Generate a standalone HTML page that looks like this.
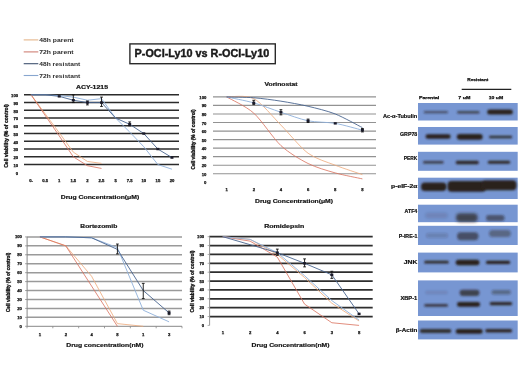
<!DOCTYPE html>
<html><head><meta charset="utf-8"><style>
html,body{margin:0;padding:0;background:#fff;}
svg{display:block;font-family:"Liberation Sans", sans-serif;filter:blur(0.4px);}
</style></head><body>
<svg width="520" height="390" viewBox="0 0 520 390">
<rect width="520" height="390" fill="#fff"/>
<line x1="24" y1="164.55" x2="179" y2="164.55" stroke="#2b2b2b" stroke-width="1.6"/>
<line x1="24" y1="156.80" x2="179" y2="156.80" stroke="#2b2b2b" stroke-width="1.6"/>
<line x1="24" y1="149.05" x2="179" y2="149.05" stroke="#2b2b2b" stroke-width="1.6"/>
<line x1="24" y1="141.30" x2="179" y2="141.30" stroke="#2b2b2b" stroke-width="1.6"/>
<line x1="24" y1="133.55" x2="179" y2="133.55" stroke="#2b2b2b" stroke-width="1.6"/>
<line x1="24" y1="125.80" x2="179" y2="125.80" stroke="#2b2b2b" stroke-width="1.6"/>
<line x1="24" y1="118.05" x2="179" y2="118.05" stroke="#2b2b2b" stroke-width="1.6"/>
<line x1="24" y1="110.30" x2="179" y2="110.30" stroke="#2b2b2b" stroke-width="1.6"/>
<line x1="24" y1="102.55" x2="179" y2="102.55" stroke="#2b2b2b" stroke-width="1.6"/>
<line x1="24" y1="94.80" x2="179" y2="94.80" stroke="#2b2b2b" stroke-width="1.6"/>
<text x="18.1" y="174.6" font-size="4.2" text-anchor="end" font-weight="bold" fill="#111" stroke="#111" stroke-width="0.25">0</text>
<text x="18.1" y="166.9" font-size="4.2" text-anchor="end" font-weight="bold" fill="#111" stroke="#111" stroke-width="0.25">10</text>
<text x="18.1" y="159.1" font-size="4.2" text-anchor="end" font-weight="bold" fill="#111" stroke="#111" stroke-width="0.25">20</text>
<text x="18.1" y="151.4" font-size="4.2" text-anchor="end" font-weight="bold" fill="#111" stroke="#111" stroke-width="0.25">30</text>
<text x="18.1" y="143.6" font-size="4.2" text-anchor="end" font-weight="bold" fill="#111" stroke="#111" stroke-width="0.25">40</text>
<text x="18.1" y="135.9" font-size="4.2" text-anchor="end" font-weight="bold" fill="#111" stroke="#111" stroke-width="0.25">50</text>
<text x="18.1" y="128.1" font-size="4.2" text-anchor="end" font-weight="bold" fill="#111" stroke="#111" stroke-width="0.25">60</text>
<text x="18.1" y="120.4" font-size="4.2" text-anchor="end" font-weight="bold" fill="#111" stroke="#111" stroke-width="0.25">70</text>
<text x="18.1" y="112.6" font-size="4.2" text-anchor="end" font-weight="bold" fill="#111" stroke="#111" stroke-width="0.25">80</text>
<text x="18.1" y="104.8" font-size="4.2" text-anchor="end" font-weight="bold" fill="#111" stroke="#111" stroke-width="0.25">90</text>
<text x="18.1" y="97.1" font-size="4.2" text-anchor="end" font-weight="bold" fill="#111" stroke="#111" stroke-width="0.25">100</text>
<text x="31.0" y="182.1" font-size="4.2" text-anchor="middle" font-weight="bold" fill="#111" stroke="#111" stroke-width="0.25">0-</text>
<text x="45.1" y="182.1" font-size="4.2" text-anchor="middle" font-weight="bold" fill="#111" stroke="#111" stroke-width="0.25">0.5</text>
<text x="59.2" y="182.1" font-size="4.2" text-anchor="middle" font-weight="bold" fill="#111" stroke="#111" stroke-width="0.25">1</text>
<text x="73.3" y="182.1" font-size="4.2" text-anchor="middle" font-weight="bold" fill="#111" stroke="#111" stroke-width="0.25">1.5</text>
<text x="87.4" y="182.1" font-size="4.2" text-anchor="middle" font-weight="bold" fill="#111" stroke="#111" stroke-width="0.25">2</text>
<text x="101.5" y="182.1" font-size="4.2" text-anchor="middle" font-weight="bold" fill="#111" stroke="#111" stroke-width="0.25">2.5</text>
<text x="115.6" y="182.1" font-size="4.2" text-anchor="middle" font-weight="bold" fill="#111" stroke="#111" stroke-width="0.25">5</text>
<text x="129.7" y="182.1" font-size="4.2" text-anchor="middle" font-weight="bold" fill="#111" stroke="#111" stroke-width="0.25">7.5</text>
<text x="143.8" y="182.1" font-size="4.2" text-anchor="middle" font-weight="bold" fill="#111" stroke="#111" stroke-width="0.25">10</text>
<text x="157.9" y="182.1" font-size="4.2" text-anchor="middle" font-weight="bold" fill="#111" stroke="#111" stroke-width="0.25">15</text>
<text x="172.0" y="182.1" font-size="4.2" text-anchor="middle" font-weight="bold" fill="#111" stroke="#111" stroke-width="0.25">20</text>
<polyline points="31.05,94.80 45.14,113.79 59.23,132.78 73.32,152.15 87.41,161.45 101.50,163.39" fill="none" stroke="#eea878" stroke-width="0.8" stroke-linejoin="round"/>
<polyline points="31.05,94.80 45.14,115.34 59.23,135.88 73.32,156.80 87.41,165.71 101.50,168.43" fill="none" stroke="#d9705c" stroke-width="0.8" stroke-linejoin="round"/>
<polyline points="31.05,94.80 45.14,94.80 59.23,95.57 73.32,97.12 87.41,100.23 101.50,98.67 115.59,118.05 129.68,132.00 143.77,146.73 157.86,164.55 171.95,169.20" fill="none" stroke="#8fb0da" stroke-width="0.9" stroke-linejoin="round"/>
<polyline points="31.05,94.80 45.14,94.80 59.23,96.35 73.32,100.23 87.41,102.55 101.50,102.55 115.59,118.05 129.68,124.25 143.77,133.55 157.86,149.05 171.95,157.58" fill="none" stroke="#4a6590" stroke-width="0.9" stroke-linejoin="round"/>
<rect x="57.73" y="95.15" width="3.0" height="2.4" fill="#1a1a2a"/>
<line x1="73.32" y1="94.80" x2="73.32" y2="102.55" stroke="#111" stroke-width="0.9"/>
<line x1="71.92" y1="94.80" x2="74.72" y2="94.80" stroke="#111" stroke-width="0.9"/>
<line x1="71.92" y1="102.55" x2="74.72" y2="102.55" stroke="#111" stroke-width="0.9"/>
<rect x="71.82" y="99.03" width="3.0" height="2.4" fill="#1a1a2a"/>
<line x1="87.41" y1="101.00" x2="87.41" y2="104.88" stroke="#111" stroke-width="0.9"/>
<line x1="86.01" y1="101.00" x2="88.81" y2="101.00" stroke="#111" stroke-width="0.9"/>
<line x1="86.01" y1="104.88" x2="88.81" y2="104.88" stroke="#111" stroke-width="0.9"/>
<rect x="85.91" y="101.35" width="3.0" height="2.4" fill="#1a1a2a"/>
<line x1="101.50" y1="97.12" x2="101.50" y2="106.42" stroke="#111" stroke-width="0.9"/>
<line x1="100.10" y1="97.12" x2="102.90" y2="97.12" stroke="#111" stroke-width="0.9"/>
<line x1="100.10" y1="106.42" x2="102.90" y2="106.42" stroke="#111" stroke-width="0.9"/>
<rect x="100.00" y="101.35" width="3.0" height="2.4" fill="#1a1a2a"/>
<line x1="129.68" y1="121.93" x2="129.68" y2="125.80" stroke="#111" stroke-width="0.9"/>
<line x1="128.28" y1="121.93" x2="131.08" y2="121.93" stroke="#111" stroke-width="0.9"/>
<line x1="128.28" y1="125.80" x2="131.08" y2="125.80" stroke="#111" stroke-width="0.9"/>
<rect x="128.18" y="123.05" width="3.0" height="2.4" fill="#1a1a2a"/>
<rect x="142.27" y="132.35" width="3.0" height="2.4" fill="#1a1a2a"/>
<rect x="156.36" y="147.85" width="3.0" height="2.4" fill="#1a1a2a"/>
<rect x="170.45" y="156.38" width="3.0" height="2.4" fill="#1a1a2a"/>
<text x="92.0" y="88.5" font-size="5.2" text-anchor="middle" font-weight="bold" fill="#111" textLength="32" lengthAdjust="spacingAndGlyphs" stroke="#111" stroke-width="0.18">ACY-1215</text>
<text x="100.0" y="199.2" font-size="5.6" text-anchor="middle" font-weight="bold" fill="#111" textLength="78.5" lengthAdjust="spacingAndGlyphs" stroke="#111" stroke-width="0.18">Drug Concentration(μM)</text>
<text transform="translate(7.8,136) rotate(-90)" x="0" y="0" font-size="4.6" text-anchor="middle" font-weight="bold" fill="#111" stroke="#111" stroke-width="0.3" textLength="63.6" lengthAdjust="spacingAndGlyphs">Cell viability (% of control)</text>
<line x1="213" y1="173.76" x2="376" y2="173.76" stroke="#929292" stroke-width="1.15"/>
<line x1="213" y1="165.22" x2="376" y2="165.22" stroke="#929292" stroke-width="1.15"/>
<line x1="213" y1="156.68" x2="376" y2="156.68" stroke="#929292" stroke-width="1.15"/>
<line x1="213" y1="148.14" x2="376" y2="148.14" stroke="#929292" stroke-width="1.15"/>
<line x1="213" y1="139.60" x2="376" y2="139.60" stroke="#929292" stroke-width="1.15"/>
<line x1="213" y1="131.06" x2="376" y2="131.06" stroke="#929292" stroke-width="1.15"/>
<line x1="213" y1="122.52" x2="376" y2="122.52" stroke="#929292" stroke-width="1.15"/>
<line x1="213" y1="113.98" x2="376" y2="113.98" stroke="#929292" stroke-width="1.15"/>
<line x1="213" y1="105.44" x2="376" y2="105.44" stroke="#929292" stroke-width="1.15"/>
<line x1="213" y1="96.90" x2="376" y2="96.90" stroke="#929292" stroke-width="1.15"/>
<text x="206.3" y="184.3" font-size="4.2" text-anchor="end" font-weight="bold" fill="#111" stroke="#111" stroke-width="0.25">0</text>
<text x="206.3" y="175.8" font-size="4.2" text-anchor="end" font-weight="bold" fill="#111" stroke="#111" stroke-width="0.25">10</text>
<text x="206.3" y="167.2" font-size="4.2" text-anchor="end" font-weight="bold" fill="#111" stroke="#111" stroke-width="0.25">20</text>
<text x="206.3" y="158.7" font-size="4.2" text-anchor="end" font-weight="bold" fill="#111" stroke="#111" stroke-width="0.25">30</text>
<text x="206.3" y="150.1" font-size="4.2" text-anchor="end" font-weight="bold" fill="#111" stroke="#111" stroke-width="0.25">40</text>
<text x="206.3" y="141.6" font-size="4.2" text-anchor="end" font-weight="bold" fill="#111" stroke="#111" stroke-width="0.25">50</text>
<text x="206.3" y="133.1" font-size="4.2" text-anchor="end" font-weight="bold" fill="#111" stroke="#111" stroke-width="0.25">60</text>
<text x="206.3" y="124.5" font-size="4.2" text-anchor="end" font-weight="bold" fill="#111" stroke="#111" stroke-width="0.25">70</text>
<text x="206.3" y="116.0" font-size="4.2" text-anchor="end" font-weight="bold" fill="#111" stroke="#111" stroke-width="0.25">80</text>
<text x="206.3" y="107.4" font-size="4.2" text-anchor="end" font-weight="bold" fill="#111" stroke="#111" stroke-width="0.25">90</text>
<text x="206.3" y="98.9" font-size="4.2" text-anchor="end" font-weight="bold" fill="#111" stroke="#111" stroke-width="0.25">100</text>
<text x="226.6" y="190.5" font-size="4.2" text-anchor="middle" font-weight="bold" fill="#111" stroke="#111" stroke-width="0.25">1</text>
<text x="253.8" y="190.5" font-size="4.2" text-anchor="middle" font-weight="bold" fill="#111" stroke="#111" stroke-width="0.25">2</text>
<text x="280.9" y="190.5" font-size="4.2" text-anchor="middle" font-weight="bold" fill="#111" stroke="#111" stroke-width="0.25">4</text>
<text x="308.1" y="190.5" font-size="4.2" text-anchor="middle" font-weight="bold" fill="#111" stroke="#111" stroke-width="0.25">6</text>
<text x="335.2" y="190.5" font-size="4.2" text-anchor="middle" font-weight="bold" fill="#111" stroke="#111" stroke-width="0.25">8</text>
<text x="362.4" y="190.5" font-size="4.2" text-anchor="middle" font-weight="bold" fill="#111" stroke="#111" stroke-width="0.25">8</text>
<path d="M226.58,96.90 C230.46,97.14 245.99,94.58 253.75,98.61 C261.51,102.63 273.15,117.27 280.92,125.08 C288.68,132.89 300.32,147.53 308.08,153.26 C315.85,159.00 327.49,162.17 335.25,165.22 C343.01,168.27 358.54,173.27 362.42,174.61" fill="none" stroke="#eea878" stroke-width="0.8"/>
<path d="M226.58,96.90 C230.46,99.22 245.99,106.17 253.75,113.13 C261.51,120.08 273.15,138.38 280.92,145.58 C288.68,152.78 300.32,159.61 308.08,163.51 C315.85,167.42 327.49,170.71 335.25,172.91 C343.01,175.10 358.54,178.03 362.42,178.88" fill="none" stroke="#d9705c" stroke-width="0.8"/>
<path d="M226.58,96.90 C230.46,97.75 245.99,100.68 253.75,102.88 C261.51,105.07 273.15,109.71 280.92,112.27 C288.68,114.83 300.32,119.23 308.08,120.81 C315.85,122.40 327.49,122.03 335.25,123.37 C343.01,124.72 358.54,129.23 362.42,130.21" fill="none" stroke="#8fb0da" stroke-width="0.9"/>
<path d="M226.58,96.90 C230.46,97.02 245.99,97.14 253.75,97.75 C261.51,98.36 273.15,99.95 280.92,101.17 C288.68,102.39 300.32,104.46 308.08,106.29 C315.85,108.12 327.49,110.93 335.25,113.98 C343.01,117.03 358.54,125.69 362.42,127.64" fill="none" stroke="#4a6590" stroke-width="0.9"/>
<line x1="253.75" y1="100.32" x2="253.75" y2="104.59" stroke="#111" stroke-width="0.9"/>
<line x1="252.35" y1="100.32" x2="255.15" y2="100.32" stroke="#111" stroke-width="0.9"/>
<line x1="252.35" y1="104.59" x2="255.15" y2="104.59" stroke="#111" stroke-width="0.9"/>
<rect x="252.25" y="101.68" width="3.0" height="2.4" fill="#1a1a2a"/>
<line x1="280.92" y1="109.71" x2="280.92" y2="114.83" stroke="#111" stroke-width="0.9"/>
<line x1="279.52" y1="109.71" x2="282.32" y2="109.71" stroke="#111" stroke-width="0.9"/>
<line x1="279.52" y1="114.83" x2="282.32" y2="114.83" stroke="#111" stroke-width="0.9"/>
<rect x="279.42" y="111.07" width="3.0" height="2.4" fill="#1a1a2a"/>
<line x1="308.08" y1="119.10" x2="308.08" y2="122.52" stroke="#111" stroke-width="0.9"/>
<line x1="306.68" y1="119.10" x2="309.48" y2="119.10" stroke="#111" stroke-width="0.9"/>
<line x1="306.68" y1="122.52" x2="309.48" y2="122.52" stroke="#111" stroke-width="0.9"/>
<rect x="306.58" y="119.61" width="3.0" height="2.4" fill="#1a1a2a"/>
<rect x="333.75" y="122.17" width="3.0" height="2.4" fill="#1a1a2a"/>
<line x1="362.42" y1="128.50" x2="362.42" y2="131.91" stroke="#111" stroke-width="0.9"/>
<line x1="361.02" y1="128.50" x2="363.82" y2="128.50" stroke="#111" stroke-width="0.9"/>
<line x1="361.02" y1="131.91" x2="363.82" y2="131.91" stroke="#111" stroke-width="0.9"/>
<rect x="360.92" y="129.01" width="3.0" height="2.4" fill="#1a1a2a"/>
<text x="281.0" y="86.3" font-size="5.2" text-anchor="middle" font-weight="bold" fill="#111" textLength="33" lengthAdjust="spacingAndGlyphs" stroke="#111" stroke-width="0.18">Vorinostat</text>
<text x="294.0" y="202.7" font-size="5.6" text-anchor="middle" font-weight="bold" fill="#111" textLength="78" lengthAdjust="spacingAndGlyphs" stroke="#111" stroke-width="0.18">Drug Concentration(μM)</text>
<text transform="translate(195.1,139.5) rotate(-90)" x="0" y="0" font-size="4.6" text-anchor="middle" font-weight="bold" fill="#111" stroke="#111" stroke-width="0.3" textLength="60" lengthAdjust="spacingAndGlyphs">Cell viability (% of control)</text>
<line x1="27" y1="317.36" x2="182" y2="317.36" stroke="#9a9a9a" stroke-width="1.5"/>
<line x1="27" y1="308.42" x2="182" y2="308.42" stroke="#9a9a9a" stroke-width="1.5"/>
<line x1="27" y1="299.48" x2="182" y2="299.48" stroke="#9a9a9a" stroke-width="1.5"/>
<line x1="27" y1="290.54" x2="182" y2="290.54" stroke="#9a9a9a" stroke-width="1.5"/>
<line x1="27" y1="281.60" x2="182" y2="281.60" stroke="#9a9a9a" stroke-width="1.5"/>
<line x1="27" y1="272.66" x2="182" y2="272.66" stroke="#9a9a9a" stroke-width="1.5"/>
<line x1="27" y1="263.72" x2="182" y2="263.72" stroke="#9a9a9a" stroke-width="1.5"/>
<line x1="27" y1="254.78" x2="182" y2="254.78" stroke="#9a9a9a" stroke-width="1.5"/>
<line x1="27" y1="245.84" x2="182" y2="245.84" stroke="#9a9a9a" stroke-width="1.5"/>
<line x1="27" y1="236.90" x2="182" y2="236.90" stroke="#9a9a9a" stroke-width="1.5"/>
<line x1="27" y1="326.30" x2="182" y2="326.30" stroke="#888" stroke-width="1"/>
<line x1="27.00" y1="326.30" x2="27.00" y2="328.30" stroke="#888" stroke-width="0.8"/>
<line x1="52.83" y1="326.30" x2="52.83" y2="328.30" stroke="#888" stroke-width="0.8"/>
<line x1="78.67" y1="326.30" x2="78.67" y2="328.30" stroke="#888" stroke-width="0.8"/>
<line x1="104.50" y1="326.30" x2="104.50" y2="328.30" stroke="#888" stroke-width="0.8"/>
<line x1="130.33" y1="326.30" x2="130.33" y2="328.30" stroke="#888" stroke-width="0.8"/>
<line x1="156.17" y1="326.30" x2="156.17" y2="328.30" stroke="#888" stroke-width="0.8"/>
<line x1="182.00" y1="326.30" x2="182.00" y2="328.30" stroke="#888" stroke-width="0.8"/>
<line x1="27.1" y1="236.90" x2="27.1" y2="326.30" stroke="#888" stroke-width="1"/>
<line x1="25.1" y1="326.30" x2="27.1" y2="326.30" stroke="#888" stroke-width="0.8"/>
<line x1="25.1" y1="317.36" x2="27.1" y2="317.36" stroke="#888" stroke-width="0.8"/>
<line x1="25.1" y1="308.42" x2="27.1" y2="308.42" stroke="#888" stroke-width="0.8"/>
<line x1="25.1" y1="299.48" x2="27.1" y2="299.48" stroke="#888" stroke-width="0.8"/>
<line x1="25.1" y1="290.54" x2="27.1" y2="290.54" stroke="#888" stroke-width="0.8"/>
<line x1="25.1" y1="281.60" x2="27.1" y2="281.60" stroke="#888" stroke-width="0.8"/>
<line x1="25.1" y1="272.66" x2="27.1" y2="272.66" stroke="#888" stroke-width="0.8"/>
<line x1="25.1" y1="263.72" x2="27.1" y2="263.72" stroke="#888" stroke-width="0.8"/>
<line x1="25.1" y1="254.78" x2="27.1" y2="254.78" stroke="#888" stroke-width="0.8"/>
<line x1="25.1" y1="245.84" x2="27.1" y2="245.84" stroke="#888" stroke-width="0.8"/>
<line x1="25.1" y1="236.90" x2="27.1" y2="236.90" stroke="#888" stroke-width="0.8"/>
<text x="21.9" y="327.8" font-size="4.2" text-anchor="end" font-weight="bold" fill="#111" stroke="#111" stroke-width="0.25">0</text>
<text x="21.9" y="318.9" font-size="4.2" text-anchor="end" font-weight="bold" fill="#111" stroke="#111" stroke-width="0.25">10</text>
<text x="21.9" y="309.9" font-size="4.2" text-anchor="end" font-weight="bold" fill="#111" stroke="#111" stroke-width="0.25">20</text>
<text x="21.9" y="301.0" font-size="4.2" text-anchor="end" font-weight="bold" fill="#111" stroke="#111" stroke-width="0.25">30</text>
<text x="21.9" y="292.0" font-size="4.2" text-anchor="end" font-weight="bold" fill="#111" stroke="#111" stroke-width="0.25">40</text>
<text x="21.9" y="283.1" font-size="4.2" text-anchor="end" font-weight="bold" fill="#111" stroke="#111" stroke-width="0.25">50</text>
<text x="21.9" y="274.2" font-size="4.2" text-anchor="end" font-weight="bold" fill="#111" stroke="#111" stroke-width="0.25">60</text>
<text x="21.9" y="265.2" font-size="4.2" text-anchor="end" font-weight="bold" fill="#111" stroke="#111" stroke-width="0.25">70</text>
<text x="21.9" y="256.3" font-size="4.2" text-anchor="end" font-weight="bold" fill="#111" stroke="#111" stroke-width="0.25">80</text>
<text x="21.9" y="247.3" font-size="4.2" text-anchor="end" font-weight="bold" fill="#111" stroke="#111" stroke-width="0.25">90</text>
<text x="21.9" y="238.4" font-size="4.2" text-anchor="end" font-weight="bold" fill="#111" stroke="#111" stroke-width="0.25">100</text>
<text x="39.9" y="335.6" font-size="4.2" text-anchor="middle" font-weight="bold" fill="#111" stroke="#111" stroke-width="0.25">1</text>
<text x="65.8" y="335.6" font-size="4.2" text-anchor="middle" font-weight="bold" fill="#111" stroke="#111" stroke-width="0.25">2</text>
<text x="91.6" y="335.6" font-size="4.2" text-anchor="middle" font-weight="bold" fill="#111" stroke="#111" stroke-width="0.25">4</text>
<text x="117.4" y="335.6" font-size="4.2" text-anchor="middle" font-weight="bold" fill="#111" stroke="#111" stroke-width="0.25">8</text>
<text x="143.2" y="335.6" font-size="4.2" text-anchor="middle" font-weight="bold" fill="#111" stroke="#111" stroke-width="0.25">1</text>
<text x="169.1" y="335.6" font-size="4.2" text-anchor="middle" font-weight="bold" fill="#111" stroke="#111" stroke-width="0.25">3</text>
<polyline points="39.92,236.90 65.75,245.84 91.58,276.24 117.42,323.62 143.25,326.30" fill="none" stroke="#eea878" stroke-width="0.8" stroke-linejoin="round"/>
<polyline points="39.92,236.90 65.75,245.84 91.58,286.07 117.42,326.30" fill="none" stroke="#d9705c" stroke-width="0.8" stroke-linejoin="round"/>
<polyline points="39.92,236.90 65.75,236.90 91.58,237.79 117.42,247.63 143.25,310.21 169.08,321.83" fill="none" stroke="#8fb0da" stroke-width="0.9" stroke-linejoin="round"/>
<polyline points="39.92,236.90 65.75,236.90 91.58,237.79 117.42,249.42 143.25,290.54 169.08,312.89" fill="none" stroke="#4a6590" stroke-width="0.9" stroke-linejoin="round"/>
<line x1="117.42" y1="244.05" x2="117.42" y2="253.89" stroke="#111" stroke-width="0.9"/>
<line x1="116.02" y1="244.05" x2="118.82" y2="244.05" stroke="#111" stroke-width="0.9"/>
<line x1="116.02" y1="253.89" x2="118.82" y2="253.89" stroke="#111" stroke-width="0.9"/>
<line x1="143.25" y1="283.39" x2="143.25" y2="298.59" stroke="#111" stroke-width="0.9"/>
<line x1="141.85" y1="283.39" x2="144.65" y2="283.39" stroke="#111" stroke-width="0.9"/>
<line x1="141.85" y1="298.59" x2="144.65" y2="298.59" stroke="#111" stroke-width="0.9"/>
<line x1="169.08" y1="311.10" x2="169.08" y2="314.68" stroke="#111" stroke-width="0.9"/>
<line x1="167.68" y1="311.10" x2="170.48" y2="311.10" stroke="#111" stroke-width="0.9"/>
<line x1="167.68" y1="314.68" x2="170.48" y2="314.68" stroke="#111" stroke-width="0.9"/>
<rect x="167.58" y="311.69" width="3.0" height="2.4" fill="#1a1a2a"/>
<text x="98.8" y="228.0" font-size="5.2" text-anchor="middle" font-weight="bold" fill="#111" textLength="37" lengthAdjust="spacingAndGlyphs" stroke="#111" stroke-width="0.18">Bortezomib</text>
<text x="104.9" y="346.5" font-size="5.6" text-anchor="middle" font-weight="bold" fill="#111" textLength="77.3" lengthAdjust="spacingAndGlyphs" stroke="#111" stroke-width="0.18">Drug concentration(nM)</text>
<text transform="translate(10.3,282.4) rotate(-90)" x="0" y="0" font-size="4.6" text-anchor="middle" font-weight="bold" fill="#111" stroke="#111" stroke-width="0.3" textLength="59.4" lengthAdjust="spacingAndGlyphs">Cell viability (% of control)</text>
<line x1="209.2" y1="316.53" x2="372.7" y2="316.53" stroke="#2e2e2e" stroke-width="1.7"/>
<line x1="209.2" y1="307.66" x2="372.7" y2="307.66" stroke="#2e2e2e" stroke-width="1.7"/>
<line x1="209.2" y1="298.79" x2="372.7" y2="298.79" stroke="#2e2e2e" stroke-width="1.7"/>
<line x1="209.2" y1="289.92" x2="372.7" y2="289.92" stroke="#2e2e2e" stroke-width="1.7"/>
<line x1="209.2" y1="281.05" x2="372.7" y2="281.05" stroke="#2e2e2e" stroke-width="1.7"/>
<line x1="209.2" y1="272.18" x2="372.7" y2="272.18" stroke="#2e2e2e" stroke-width="1.7"/>
<line x1="209.2" y1="263.31" x2="372.7" y2="263.31" stroke="#2e2e2e" stroke-width="1.7"/>
<line x1="209.2" y1="254.44" x2="372.7" y2="254.44" stroke="#2e2e2e" stroke-width="1.7"/>
<line x1="209.2" y1="245.57" x2="372.7" y2="245.57" stroke="#2e2e2e" stroke-width="1.7"/>
<line x1="209.2" y1="236.70" x2="372.7" y2="236.70" stroke="#2e2e2e" stroke-width="1.7"/>
<line x1="209.6" y1="236.70" x2="209.6" y2="325.40" stroke="#999" stroke-width="1"/>
<line x1="207.6" y1="325.40" x2="209.6" y2="325.40" stroke="#999" stroke-width="0.8"/>
<line x1="207.6" y1="316.53" x2="209.6" y2="316.53" stroke="#999" stroke-width="0.8"/>
<line x1="207.6" y1="307.66" x2="209.6" y2="307.66" stroke="#999" stroke-width="0.8"/>
<line x1="207.6" y1="298.79" x2="209.6" y2="298.79" stroke="#999" stroke-width="0.8"/>
<line x1="207.6" y1="289.92" x2="209.6" y2="289.92" stroke="#999" stroke-width="0.8"/>
<line x1="207.6" y1="281.05" x2="209.6" y2="281.05" stroke="#999" stroke-width="0.8"/>
<line x1="207.6" y1="272.18" x2="209.6" y2="272.18" stroke="#999" stroke-width="0.8"/>
<line x1="207.6" y1="263.31" x2="209.6" y2="263.31" stroke="#999" stroke-width="0.8"/>
<line x1="207.6" y1="254.44" x2="209.6" y2="254.44" stroke="#999" stroke-width="0.8"/>
<line x1="207.6" y1="245.57" x2="209.6" y2="245.57" stroke="#999" stroke-width="0.8"/>
<line x1="207.6" y1="236.70" x2="209.6" y2="236.70" stroke="#999" stroke-width="0.8"/>
<text x="204.1" y="326.9" font-size="4.2" text-anchor="end" font-weight="bold" fill="#111" stroke="#111" stroke-width="0.25">0</text>
<text x="204.1" y="318.0" font-size="4.2" text-anchor="end" font-weight="bold" fill="#111" stroke="#111" stroke-width="0.25">10</text>
<text x="204.1" y="309.2" font-size="4.2" text-anchor="end" font-weight="bold" fill="#111" stroke="#111" stroke-width="0.25">20</text>
<text x="204.1" y="300.3" font-size="4.2" text-anchor="end" font-weight="bold" fill="#111" stroke="#111" stroke-width="0.25">30</text>
<text x="204.1" y="291.4" font-size="4.2" text-anchor="end" font-weight="bold" fill="#111" stroke="#111" stroke-width="0.25">40</text>
<text x="204.1" y="282.5" font-size="4.2" text-anchor="end" font-weight="bold" fill="#111" stroke="#111" stroke-width="0.25">50</text>
<text x="204.1" y="273.7" font-size="4.2" text-anchor="end" font-weight="bold" fill="#111" stroke="#111" stroke-width="0.25">60</text>
<text x="204.1" y="264.8" font-size="4.2" text-anchor="end" font-weight="bold" fill="#111" stroke="#111" stroke-width="0.25">70</text>
<text x="204.1" y="255.9" font-size="4.2" text-anchor="end" font-weight="bold" fill="#111" stroke="#111" stroke-width="0.25">80</text>
<text x="204.1" y="247.1" font-size="4.2" text-anchor="end" font-weight="bold" fill="#111" stroke="#111" stroke-width="0.25">90</text>
<text x="204.1" y="238.2" font-size="4.2" text-anchor="end" font-weight="bold" fill="#111" stroke="#111" stroke-width="0.25">100</text>
<text x="222.8" y="334.1" font-size="4.2" text-anchor="middle" font-weight="bold" fill="#111" stroke="#111" stroke-width="0.25">1</text>
<text x="250.1" y="334.1" font-size="4.2" text-anchor="middle" font-weight="bold" fill="#111" stroke="#111" stroke-width="0.25">2</text>
<text x="277.3" y="334.1" font-size="4.2" text-anchor="middle" font-weight="bold" fill="#111" stroke="#111" stroke-width="0.25">4</text>
<text x="304.6" y="334.1" font-size="4.2" text-anchor="middle" font-weight="bold" fill="#111" stroke="#111" stroke-width="0.25">6</text>
<text x="331.8" y="334.1" font-size="4.2" text-anchor="middle" font-weight="bold" fill="#111" stroke="#111" stroke-width="0.25">3</text>
<text x="359.1" y="334.1" font-size="4.2" text-anchor="middle" font-weight="bold" fill="#111" stroke="#111" stroke-width="0.25">8</text>
<polyline points="222.82,236.70 250.07,239.36 277.32,254.44 304.57,277.50 331.82,303.22 359.07,320.96" fill="none" stroke="#eea878" stroke-width="0.8" stroke-linejoin="round"/>
<polyline points="222.82,236.70 250.07,241.13 277.32,257.10 304.57,304.11 331.82,322.74 359.07,325.40" fill="none" stroke="#d9705c" stroke-width="0.8" stroke-linejoin="round"/>
<polyline points="222.82,236.70 250.07,239.36 277.32,252.67 304.57,275.73 331.82,300.56 359.07,320.08" fill="none" stroke="#8fb0da" stroke-width="0.9" stroke-linejoin="round"/>
<polyline points="222.82,236.70 250.07,244.68 277.32,252.67 304.57,263.31 331.82,274.84 359.07,313.87" fill="none" stroke="#4a6590" stroke-width="0.9" stroke-linejoin="round"/>
<line x1="277.32" y1="249.12" x2="277.32" y2="255.33" stroke="#111" stroke-width="0.9"/>
<line x1="275.93" y1="249.12" x2="278.72" y2="249.12" stroke="#111" stroke-width="0.9"/>
<line x1="275.93" y1="255.33" x2="278.72" y2="255.33" stroke="#111" stroke-width="0.9"/>
<rect x="275.82" y="251.47" width="3.0" height="2.4" fill="#1a1a2a"/>
<line x1="304.57" y1="258.88" x2="304.57" y2="266.86" stroke="#111" stroke-width="0.9"/>
<line x1="303.18" y1="258.88" x2="305.97" y2="258.88" stroke="#111" stroke-width="0.9"/>
<line x1="303.18" y1="266.86" x2="305.97" y2="266.86" stroke="#111" stroke-width="0.9"/>
<rect x="303.07" y="262.11" width="3.0" height="2.4" fill="#1a1a2a"/>
<line x1="331.82" y1="271.29" x2="331.82" y2="278.39" stroke="#111" stroke-width="0.9"/>
<line x1="330.43" y1="271.29" x2="333.22" y2="271.29" stroke="#111" stroke-width="0.9"/>
<line x1="330.43" y1="278.39" x2="333.22" y2="278.39" stroke="#111" stroke-width="0.9"/>
<rect x="330.32" y="273.64" width="3.0" height="2.4" fill="#1a1a2a"/>
<rect x="357.57" y="312.67" width="3.0" height="2.4" fill="#1a1a2a"/>
<text x="284.3" y="228.0" font-size="5.2" text-anchor="middle" font-weight="bold" fill="#111" textLength="40" lengthAdjust="spacingAndGlyphs" stroke="#111" stroke-width="0.18">Romidepsin</text>
<text x="290.5" y="346.7" font-size="5.6" text-anchor="middle" font-weight="bold" fill="#111" textLength="78" lengthAdjust="spacingAndGlyphs" stroke="#111" stroke-width="0.18">Drug Concentration(nM)</text>
<text transform="translate(194,281.5) rotate(-90)" x="0" y="0" font-size="4.6" text-anchor="middle" font-weight="bold" fill="#111" stroke="#111" stroke-width="0.3" textLength="62" lengthAdjust="spacingAndGlyphs">Cell viability (% of control)</text>
<line x1="23.7" y1="39.9" x2="38.3" y2="39.9" stroke="#e5b58a" stroke-width="1.1"/>
<text x="39.3" y="42.4" font-size="5.0" text-anchor="start" font-weight="bold" fill="#2a2a2a" textLength="34.3" lengthAdjust="spacingAndGlyphs" >48h parent</text>
<line x1="23.7" y1="51.9" x2="38.3" y2="51.9" stroke="#cf7f74" stroke-width="1.1"/>
<text x="39.3" y="54.4" font-size="5.0" text-anchor="start" font-weight="bold" fill="#2a2a2a" textLength="34.3" lengthAdjust="spacingAndGlyphs" >72h parent</text>
<line x1="23.7" y1="63.7" x2="38.3" y2="63.7" stroke="#3f5270" stroke-width="1.1"/>
<text x="39.3" y="66.2" font-size="5.0" text-anchor="start" font-weight="bold" fill="#2a2a2a" textLength="41" lengthAdjust="spacingAndGlyphs" >48h resistant</text>
<line x1="23.7" y1="75.5" x2="38.3" y2="75.5" stroke="#88a6cf" stroke-width="1.1"/>
<text x="39.3" y="78.0" font-size="5.0" text-anchor="start" font-weight="bold" fill="#2a2a2a" textLength="41" lengthAdjust="spacingAndGlyphs" >72h resistant</text>
<rect x="129.9" y="43.9" width="145.4" height="19.8" fill="#fff" stroke="#2a2a2a" stroke-width="1.4"/>
<text x="134.6" y="57.1" font-size="11.6" text-anchor="start" font-weight="bold" fill="#1a1a1a" textLength="134.6" lengthAdjust="spacingAndGlyphs" stroke="#1a1a1a" stroke-width="0.45">P-OCI-Ly10 vs R-OCI-Ly10</text>
<rect x="418" y="103" width="99.7" height="17.5" fill="#7796d2"/>
<text x="417.3" y="117.8" font-size="5.0" text-anchor="end" font-weight="bold" fill="#111" textLength="34.30000000000001" lengthAdjust="spacingAndGlyphs" stroke="#111" stroke-width="0.18">Ac-α-Tubulin</text>
<rect x="418" y="127" width="99.7" height="17.6" fill="#7796d2"/>
<text x="417.3" y="136.2" font-size="5.0" text-anchor="end" font-weight="bold" fill="#111" textLength="17.30000000000001" lengthAdjust="spacingAndGlyphs" stroke="#111" stroke-width="0.18">GRP78</text>
<rect x="418" y="151.8" width="99.7" height="19.0" fill="#7796d2"/>
<text x="417.3" y="160.1" font-size="5.0" text-anchor="end" font-weight="bold" fill="#111" textLength="13.5" lengthAdjust="spacingAndGlyphs" stroke="#111" stroke-width="0.18">PERK</text>
<rect x="418" y="177.7" width="99.7" height="21.3" fill="#7796d2"/>
<text x="417.3" y="188.3" font-size="5.0" text-anchor="end" font-weight="bold" fill="#111" textLength="26.30000000000001" lengthAdjust="spacingAndGlyphs" stroke="#111" stroke-width="0.18">p-eIF-2α</text>
<rect x="418" y="204.7" width="99.7" height="17.5" fill="#7796d2"/>
<text x="417.3" y="213.3" font-size="5.0" text-anchor="end" font-weight="bold" fill="#111" textLength="12.800000000000011" lengthAdjust="spacingAndGlyphs" stroke="#111" stroke-width="0.18">ATF4</text>
<rect x="418" y="225.8" width="99.7" height="19.2" fill="#7796d2"/>
<text x="417.3" y="237.7" font-size="5.0" text-anchor="end" font-weight="bold" fill="#111" textLength="18.600000000000023" lengthAdjust="spacingAndGlyphs" stroke="#111" stroke-width="0.18">P-IRE-1</text>
<rect x="418" y="252.6" width="99.7" height="19.8" fill="#7796d2"/>
<text x="417.3" y="264.0" font-size="5.0" text-anchor="end" font-weight="bold" fill="#111" textLength="13.5" lengthAdjust="spacingAndGlyphs" stroke="#111" stroke-width="0.18">JNK</text>
<rect x="418" y="280.4" width="99.7" height="35.6" fill="#7796d2"/>
<text x="417.3" y="300.3" font-size="5.0" text-anchor="end" font-weight="bold" fill="#111" textLength="16.900000000000034" lengthAdjust="spacingAndGlyphs" stroke="#111" stroke-width="0.18">XBP-1</text>
<rect x="418" y="320.5" width="99.7" height="18.9" fill="#7796d2"/>
<text x="417.3" y="331.8" font-size="5.0" text-anchor="end" font-weight="bold" fill="#111" textLength="21.5" lengthAdjust="spacingAndGlyphs" stroke="#111" stroke-width="0.18">β-Actin</text>
<defs><filter id="bl8" x="-20%" y="-100%" width="140%" height="300%"><feGaussianBlur stdDeviation="0.85"/></filter><filter id="bl9" x="-20%" y="-100%" width="140%" height="300%"><feGaussianBlur stdDeviation="0.9"/></filter><filter id="bl11" x="-20%" y="-100%" width="140%" height="300%"><feGaussianBlur stdDeviation="1.1"/></filter><filter id="bl12" x="-20%" y="-100%" width="140%" height="300%"><feGaussianBlur stdDeviation="1.2"/></filter><filter id="bl13" x="-20%" y="-100%" width="140%" height="300%"><feGaussianBlur stdDeviation="1.3"/></filter><filter id="bl14" x="-20%" y="-100%" width="140%" height="300%"><feGaussianBlur stdDeviation="1.4"/></filter><filter id="bl15" x="-20%" y="-100%" width="140%" height="300%"><feGaussianBlur stdDeviation="1.5"/></filter></defs>
<rect x="423.7" y="111.10" width="24.3" height="2.2" rx="1.1" fill="#2a211f" fill-opacity="0.6" filter="url(#bl8)"/>
<rect x="457" y="111.00" width="22.5" height="2.4" rx="1.2" fill="#2a211f" fill-opacity="0.7" filter="url(#bl8)"/>
<rect x="487.2" y="109.50" width="25.6" height="5.0" rx="2.5" fill="#2a211f" fill-opacity="1.0" filter="url(#bl9)"/>
<rect x="425.6" y="134.30" width="25.0" height="4.4" rx="2.2" fill="#2a211f" fill-opacity="1.0" filter="url(#bl9)"/>
<rect x="456.8" y="133.90" width="25.9" height="5.8" rx="2.9" fill="#2a211f" fill-opacity="1.0" filter="url(#bl9)"/>
<rect x="489" y="135.70" width="23.2" height="2.6" rx="1.3" fill="#2a211f" fill-opacity="0.9" filter="url(#bl8)"/>
<rect x="423" y="160.90" width="20.6" height="2.6" rx="1.3" fill="#2a211f" fill-opacity="0.8" filter="url(#bl8)"/>
<rect x="455.7" y="160.80" width="23.1" height="3.4" rx="1.7" fill="#2a211f" fill-opacity="0.95" filter="url(#bl8)"/>
<rect x="487.8" y="160.70" width="22.4" height="3.0" rx="1.5" fill="#2a211f" fill-opacity="0.95" filter="url(#bl8)"/>
<rect x="421" y="182.60" width="25.5" height="8.4" rx="4.0" fill="#2a211f" fill-opacity="1.0" filter="url(#bl9)"/>
<rect x="447.5" y="180.90" width="38.5" height="10.8" rx="4.0" fill="#2a211f" fill-opacity="1.0" filter="url(#bl9)"/>
<rect x="482" y="180.30" width="34.5" height="10.0" rx="4.0" fill="#2a211f" fill-opacity="1.0" filter="url(#bl9)"/>
<rect x="425" y="212.50" width="23.0" height="6" rx="3.0" fill="#2a211f" fill-opacity="0.12" filter="url(#bl15)"/>
<rect x="456" y="213.30" width="21.7" height="8.6" rx="4.0" fill="#2a211f" fill-opacity="0.7" filter="url(#bl14)"/>
<rect x="486" y="215.10" width="18.6" height="5.8" rx="2.9" fill="#2a211f" fill-opacity="0.55" filter="url(#bl13)"/>
<rect x="426" y="233.10" width="22.0" height="5" rx="2.5" fill="#2a211f" fill-opacity="0.18" filter="url(#bl13)"/>
<rect x="457" y="232.20" width="21.5" height="8.0" rx="4.0" fill="#2a211f" fill-opacity="0.6" filter="url(#bl13)"/>
<rect x="489" y="229.90" width="21.8" height="7.0" rx="3.5" fill="#2a211f" fill-opacity="0.42" filter="url(#bl13)"/>
<rect x="424.3" y="260.80" width="24.4" height="2.8" rx="1.4" fill="#2a211f" fill-opacity="0.95" filter="url(#bl8)"/>
<rect x="455.7" y="259.70" width="23.8" height="5.6" rx="2.8" fill="#2a211f" fill-opacity="1.0" filter="url(#bl9)"/>
<rect x="485.9" y="260.80" width="24.3" height="3.2" rx="1.6" fill="#2a211f" fill-opacity="1.0" filter="url(#bl8)"/>
<rect x="425" y="290.50" width="23.0" height="4" rx="2.0" fill="#2a211f" fill-opacity="0.1" filter="url(#bl13)"/>
<rect x="459.6" y="289.70" width="19.9" height="6.2" rx="3.1" fill="#2a211f" fill-opacity="0.72" filter="url(#bl11)"/>
<rect x="491.6" y="290.10" width="19.3" height="4.4" rx="2.2" fill="#2a211f" fill-opacity="0.4" filter="url(#bl12)"/>
<rect x="424.3" y="304.00" width="23.7" height="2.8" rx="1.4" fill="#2a211f" fill-opacity="0.8" filter="url(#bl8)"/>
<rect x="457" y="302.10" width="23.1" height="4.6" rx="2.3" fill="#2a211f" fill-opacity="1.0" filter="url(#bl9)"/>
<rect x="489.7" y="302.00" width="22.5" height="3.2" rx="1.6" fill="#2a211f" fill-opacity="0.95" filter="url(#bl8)"/>
<rect x="419.8" y="329.10" width="31.5" height="3.8" rx="1.9" fill="#2a211f" fill-opacity="0.9" filter="url(#bl9)"/>
<rect x="455.7" y="329.00" width="27.0" height="4.8" rx="2.4" fill="#2a211f" fill-opacity="1.0" filter="url(#bl9)"/>
<rect x="485.2" y="329.00" width="27.0" height="3.6" rx="1.8" fill="#2a211f" fill-opacity="0.95" filter="url(#bl9)"/>
<text x="429.1" y="98.9" font-size="4.1" text-anchor="middle" font-weight="bold" fill="#111" textLength="20.2" lengthAdjust="spacingAndGlyphs" stroke="#111" stroke-width="0.25">Parental</text>
<text x="464.4" y="98.9" font-size="4.1" text-anchor="middle" font-weight="bold" fill="#111" textLength="12.1" lengthAdjust="spacingAndGlyphs" stroke="#111" stroke-width="0.25">7 uM</text>
<text x="496.0" y="98.9" font-size="4.1" text-anchor="middle" font-weight="bold" fill="#111" textLength="14.4" lengthAdjust="spacingAndGlyphs" stroke="#111" stroke-width="0.25">10 uM</text>
<text x="477.8" y="80.8" font-size="4.1" text-anchor="middle" font-weight="bold" fill="#111" textLength="21.1" lengthAdjust="spacingAndGlyphs" stroke="#111" stroke-width="0.25">Resistant</text>
<line x1="461.7" y1="89.4" x2="511.3" y2="89.4" stroke="#222" stroke-width="1.2"/>
</svg>
</body></html>
